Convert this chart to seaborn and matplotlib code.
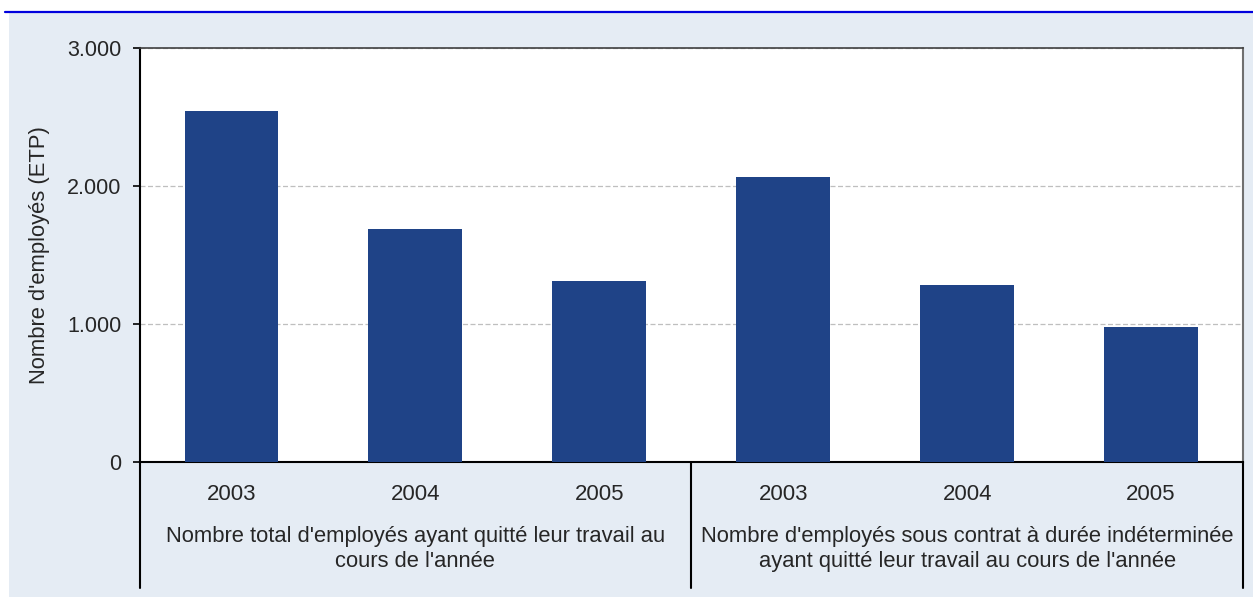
import pandas as pd
import matplotlib.pyplot as plt
import seaborn as sns
from matplotlib.patches import Rectangle
from matplotlib.lines import Line2D
from matplotlib.ticker import FuncFormatter

# =============================================================================
# Data
# =============================================================================
years = ["2003", "2004", "2005"]
groups = ["Nombre total d'employés ayant quitté leur travail au\ncours de l'année",
          "Nombre d'employés sous contrat à durée indéterminée\nayant quitté leur travail au cours de l'année"]
total_left = [2543, 1686, 1309]
cdi_left = [2063, 1280, 976]
ylabel = "Nombre d'employés (ETP)"
yticks = [0, 1000, 2000, 3000]

df = pd.DataFrame({
    "cat": [f"g1_{y}" for y in years] + [f"g2_{y}" for y in years],
    "year": years + years,
    "val": total_left + cdi_left,
})

# =============================================================================
# Style
# =============================================================================
sns.set_style("white")
plt.rcParams['font.family'] = ['Liberation Sans', 'DejaVu Sans']
bg = "#E5ECF4"
bar_col = "#1F4387"

fig = plt.figure(figsize=(12.53, 5.97), dpi=100)
fig.patch.set_facecolor("white")
fig.patches.append(Rectangle((9 / 1253, 0), 1 - 9 / 1253, 1 - 12 / 597,
                             transform=fig.transFigure, facecolor=bg,
                             edgecolor="none", zorder=-10))
fig.lines.append(Line2D([5 / 1253, 1], [1 - 11.5 / 597] * 2, transform=fig.transFigure,
                        color="#0000DD", lw=1.6, zorder=-5))

ax = fig.add_axes([139.5 / 1253, 1 - 462 / 597, (1243 - 139.5) / 1253, 414 / 597])
ax.set_facecolor("white")

sns.barplot(data=df, x="cat", y="val", color=bar_col, width=0.51,
            errorbar=None, ax=ax, saturation=1, edgecolor="none", zorder=3)

ax.set_xlim(-0.5, 5.5)
ax.set_ylim(0, 3000)
ax.set_yticks(yticks)
ax.yaxis.set_major_formatter(FuncFormatter(lambda v, p: f"{v:,.0f}".replace(",", ".")))
ax.tick_params(axis="y", direction="out", length=5, width=1.2, pad=8,
               labelsize=15.5, left=True, color="black")
ax.tick_params(axis="x", length=0, labelbottom=False)
ax.set_xlabel("")
ax.set_ylabel(ylabel, fontsize=15.8)
ax.yaxis.set_label_coords(-0.081, 0.5)

ax.grid(axis="y", color="#BFBFBF", linestyle=(0, (4, 2)), lw=0.9, zorder=1)
for s in ["left", "bottom"]:
    ax.spines[s].set_color("black")
    ax.spines[s].set_linewidth(1.5)
ax.spines["top"].set_color("#404040")
ax.spines["top"].set_linewidth(1.2)
ax.spines["right"].set_color("#707070")
ax.spines["right"].set_linewidth(1.5)

# multi-level category axis
depth = -(588 - 462) / 414
for xs in [-0.5, 2.5, 5.5]:
    ax.plot([xs, xs], [0, depth], transform=ax.get_xaxis_transform(),
            color="black", lw=1.5, clip_on=False)
for i, y in enumerate(df["year"]):
    ax.text(i, -(494 - 462) / 414, y, transform=ax.get_xaxis_transform(),
            ha="center", va="center", fontsize=16)
for g, label in enumerate(groups):
    ax.text(1 + 3 * g, -(549 - 462) / 414, label, transform=ax.get_xaxis_transform(),
            ha="center", va="center", fontsize=15.8, linespacing=1.2)

plt.savefig("out.png", dpi=100, facecolor=fig.get_facecolor())
